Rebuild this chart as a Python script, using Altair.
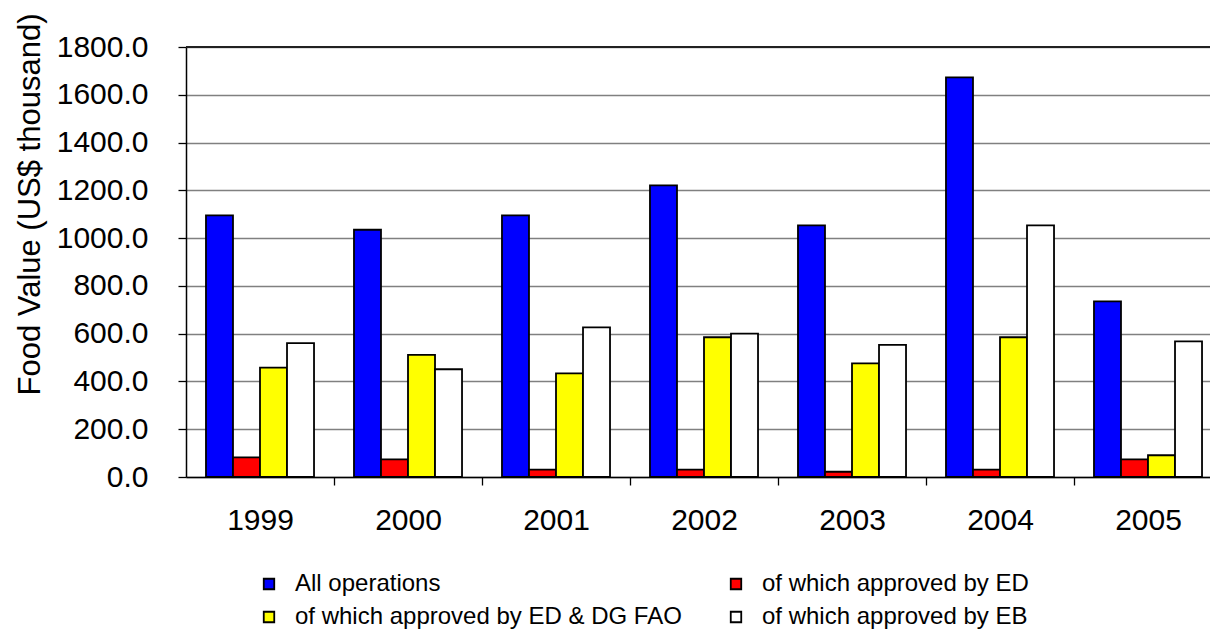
import altair as alt
import pandas as pd

# Categories and series
years = ["1999", "2000", "2001", "2002", "2003", "2004", "2005"]
series = [
    "All operations",
    "of which approved by ED",
    "of which approved by ED & DG FAO",
    "of which approved by EB",
]

# Food value, US$ thousand
all_operations = [1095, 1035, 1095, 1221, 1053, 1673, 735]
approved_ed = [82, 74, 31, 31, 22, 31, 74]
approved_ed_dg_fao = [458, 511, 434, 585, 476, 585, 91]
approved_eb = [560, 451, 626, 600, 553, 1053, 568]

# Axis ticks
y_ticks = [0, 200, 400, 600, 800, 1000, 1200, 1400, 1600, 1800]

series_colors = ["#0000FF", "#FF0000", "#FFFF00", "#FFFFFF"]
FONT = "Liberation Sans"

rows = []
for name, vals in zip(series, [all_operations, approved_ed, approved_ed_dg_fao, approved_eb]):
    for yr, v in zip(years, vals):
        rows.append({"Year": yr, "Series": name, "Value": v})
df = pd.DataFrame(rows)

x_enc = alt.X(
    "Year:N",
    sort=years,
    scale=alt.Scale(range=[0, 1036], paddingInner=0.27, paddingOuter=0.135),
    axis=alt.Axis(
        title=None,
        labelAngle=0,
        labelFont=FONT,
        labelFontSize=30,
        labelColor="black",
        labelPadding=20,
        tickSize=8,
        tickColor="black",
        tickWidth=1.3,
        domainColor="black",
        domainWidth=1.5,
        bandPosition=0.5,
        tickOffset=74,
        labelOffset=-74,
        grid=False,
    ),
)

y_enc = alt.Y(
    "Value:Q",
    scale=alt.Scale(domain=[0, 1800], nice=False),
    axis=alt.Axis(
        title="Food Value (US$ thousand)",
        values=y_ticks,
        format=".1f",
        labelFont=FONT,
        labelFontSize=30,
        labelColor="black",
        labelPadding=30,
        tickSize=8,
        tickColor="black",
        tickWidth=1.3,
        domainColor="black",
        domainWidth=1.5,
        gridColor="#808080",
        gridWidth=1.3,
        titleFont=FONT,
        titleFontSize=31,
        titleFontWeight="normal",
        titleColor="black",
        titleAngle=270,
        titleAlign="center",
        titleBaseline="alphabetic",
        titleX=-147,
        titleY=157,
    ),
)

bars = alt.Chart(df).mark_bar(stroke="black", strokeWidth=1.8).encode(
    x=x_enc,
    xOffset=alt.XOffset("Series:N", sort=series, scale=alt.Scale(paddingInner=0, paddingOuter=0)),
    y=y_enc,
    fill=alt.Fill(
        "Series:N",
        sort=series,
        scale=alt.Scale(domain=series, range=series_colors),
        legend=alt.Legend(
            title=None,
            orient="none",
            direction="horizontal",
            legendX=71,
            legendY=525,
            columns=2,
            columnPadding=42,
            rowPadding=9,
            symbolType="square",
            symbolSize=110,
            symbolStrokeColor="black",
            symbolStrokeWidth=1.8,
            labelFont=FONT,
            labelFontSize=24,
            labelColor="black",
            labelOffset=14,
            labelLimit=600,
        ),
    ),
)

# Dark line along the top of the value axis
top_line = alt.Chart(df).mark_rule(color="#222222", strokeWidth=1.5).encode(
    y=alt.datum(y_ticks[-1])
)

chart = (
    alt.layer(bars, top_line)
    .properties(
        width=1024,
        height=430,
        autosize=alt.AutoSizeParams(type="none"),
        padding={"left": 186, "top": 47, "right": 0, "bottom": 158},
        background="white",
    )
    .configure_view(stroke=None)
)

chart.save("out.html", embed_options={"renderer": "svg", "actions": False})
